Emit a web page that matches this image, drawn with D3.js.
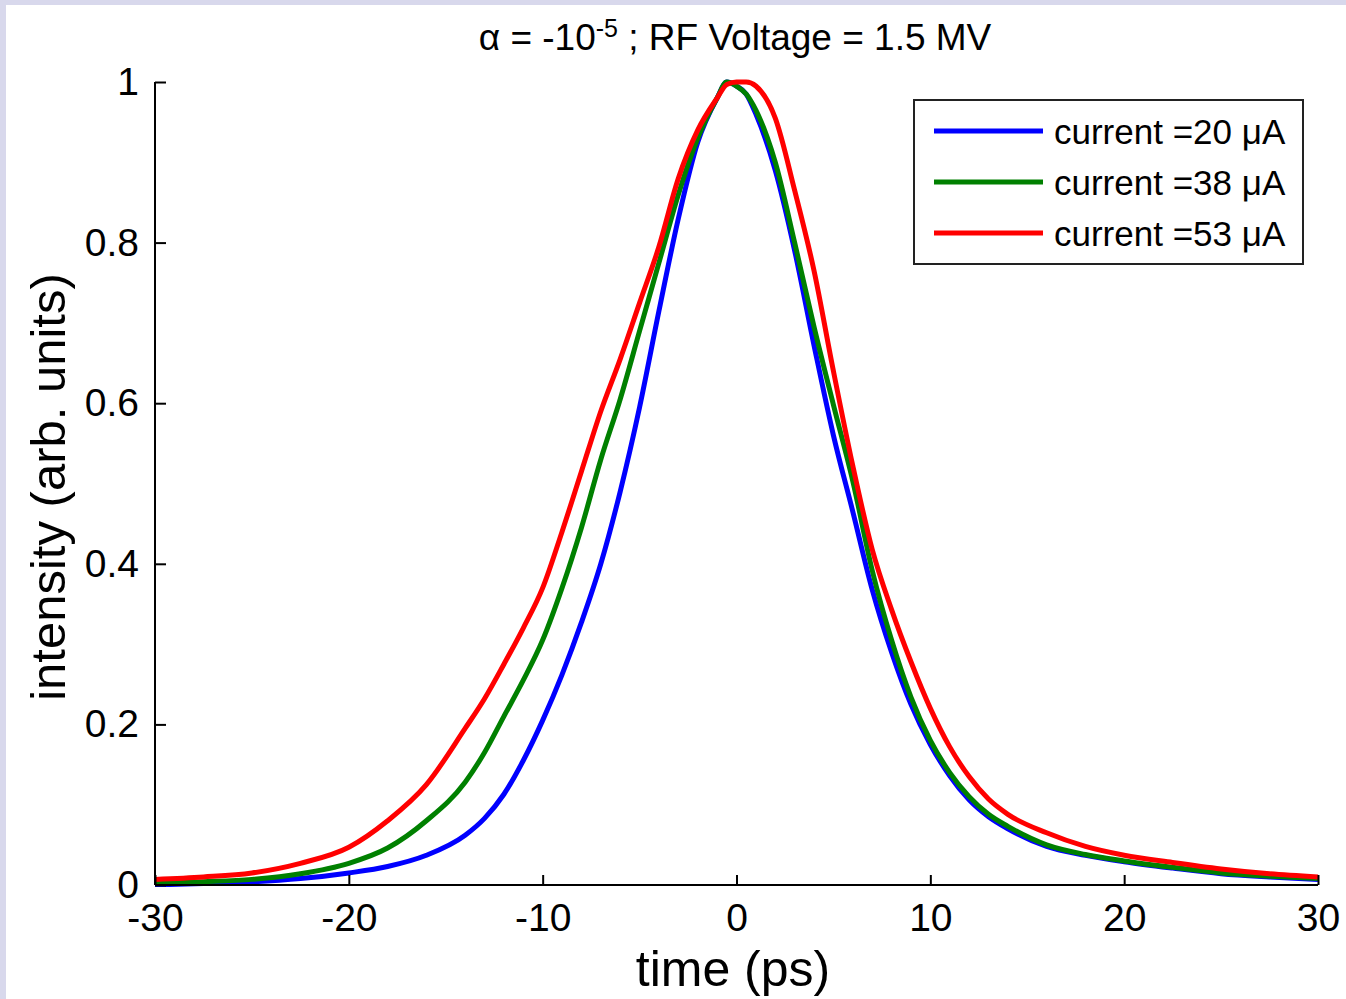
<!DOCTYPE html>
<html>
<head>
<meta charset="utf-8">
<script src="https://cdn.jsdelivr.net/npm/d3@7"></script>
<style>
  html, body { margin: 0; padding: 0; background: #ffffff; }
  svg { display: block; }
  text { font-family: "Liberation Sans", Arial, Helvetica, sans-serif; fill: #000; }
</style>
</head>
<body>
<svg id="chart" width="1346" height="999"></svg>
<script>
// ---- data ----
const timePs = [-30,-27.5,-25,-22.5,-20,-18,-16,-14,-13,-12,-11,-10,-9,-8,-7,-6,-5,-4,-3,-2,-1,-0.5,0,0.5,1,2,3,4,5,6,7,8,9,10,11,12,13,14,16,18,20,22.5,25,27.5,30];
const current20 = [0.0,0.002,0.004,0.008,0.015,0.023,0.037,0.062,0.083,0.113,0.155,0.205,0.262,0.327,0.4,0.49,0.595,0.715,0.83,0.925,0.98,1.0,0.995,0.985,0.96,0.89,0.79,0.672,0.56,0.465,0.368,0.29,0.225,0.175,0.136,0.106,0.085,0.07,0.048,0.037,0.029,0.021,0.014,0.01,0.007];
const current38 = [0.002,0.004,0.007,0.014,0.027,0.046,0.08,0.128,0.165,0.21,0.255,0.305,0.37,0.445,0.53,0.605,0.69,0.775,0.86,0.93,0.98,1.0,0.995,0.985,0.965,0.9,0.8,0.695,0.598,0.503,0.392,0.305,0.234,0.18,0.14,0.11,0.088,0.073,0.05,0.038,0.03,0.022,0.015,0.011,0.008];
const current53 = [0.007,0.01,0.015,0.027,0.047,0.08,0.125,0.195,0.232,0.275,0.32,0.37,0.44,0.515,0.59,0.655,0.725,0.795,0.88,0.94,0.98,0.997,1.0,1.0,0.995,0.955,0.865,0.765,0.64,0.522,0.418,0.343,0.278,0.22,0.172,0.135,0.107,0.088,0.065,0.048,0.037,0.028,0.02,0.014,0.01];
const seriesNames = ["current =20 \u03BCA", "current =38 \u03BCA", "current =53 \u03BCA"];
const seriesColors = ["#0000ff", "#008000", "#ff0000"];
const xTicks = [-30,-20,-10,0,10,20,30];
const yTicks = [0,0.2,0.4,0.6,0.8,1];

const svg = d3.select("#chart");
const W = 1346, H = 999;

// slide-like background bands
svg.append("rect").attr("x",0).attr("y",0).attr("width",W).attr("height",H).attr("fill","#d8d8ec");
svg.append("rect").attr("x",6).attr("y",5).attr("width",W-6).attr("height",H-5).attr("fill","#ffffff");

const x = d3.scaleLinear().domain([-30,30]).range([155,1318]);
const y = d3.scaleLinear().domain([0,1]).range([885,82]);

svg.append("clipPath").attr("id","plotclip").append("rect")
  .attr("x",152).attr("y",70).attr("width",1318-152+4).attr("height",885-70+2);

const series = [current20, current38, current53];
const line = d3.line().x(d => x(d[0])).y(d => y(d[1])).curve(d3.curveMonotoneX);

const gLines = svg.append("g").attr("clip-path","url(#plotclip)");
series.forEach((vals, i) => {
  gLines.append("path")
    .datum(timePs.map((t, k) => [t, vals[k]]))
    .attr("d", line)
    .attr("fill","none")
    .attr("stroke", seriesColors[i])
    .attr("stroke-width", 5)
    .attr("stroke-linejoin","round");
});

// axes
const xAxis = d3.axisBottom(x).tickValues(xTicks).tickSize(-10).tickPadding(18).tickFormat(d => String(d));
const yAxis = d3.axisLeft(y).tickValues(yTicks).tickSize(-11).tickPadding(16).tickFormat(d => String(d));

const gx = svg.append("g").attr("transform","translate(0,885)").call(xAxis);
const gy = svg.append("g").attr("transform","translate(155,0)").call(yAxis);
[gx, gy].forEach(g => {
  g.select(".domain").attr("stroke","#000").attr("stroke-width",2);
  g.selectAll(".tick line").attr("stroke","#000").attr("stroke-width",2);
  g.selectAll(".tick text").attr("font-size",39).attr("font-family","Liberation Sans, Arial, sans-serif").attr("fill","#000");
});
gx.select(".domain").attr("d","M155,0H1318");
gy.select(".domain").attr("d","M0,885V82");

// title
const title = svg.append("text").attr("x",735).attr("y",50).attr("text-anchor","middle").attr("font-size",37);
title.append("tspan").text("\u03B1 = -10");
title.append("tspan").attr("dy",-13).attr("font-size",25).text("-5");
title.append("tspan").attr("dy",13).text(" ; RF Voltage = 1.5 MV");

// axis labels
svg.append("text").attr("x",733).attr("y",986).attr("text-anchor","middle").attr("font-size",50).text("time (ps)");
svg.append("text").attr("transform","translate(65,487) rotate(-90)").attr("text-anchor","middle").attr("font-size",49).text("intensity (arb. units)");

// legend
const lg = svg.append("g");
lg.append("rect").attr("x",914).attr("y",100).attr("width",389).attr("height",164)
  .attr("fill","#fff").attr("stroke","#222").attr("stroke-width",2);
seriesNames.forEach((name, i) => {
  const yy = 131 + i*51;
  lg.append("line").attr("x1",934).attr("x2",1043).attr("y1",yy).attr("y2",yy)
    .attr("stroke",seriesColors[i]).attr("stroke-width",5);
  lg.append("text").attr("x",1054).attr("y",yy+13).attr("font-size",35).text(name);
});
</script>
</body>
</html>
